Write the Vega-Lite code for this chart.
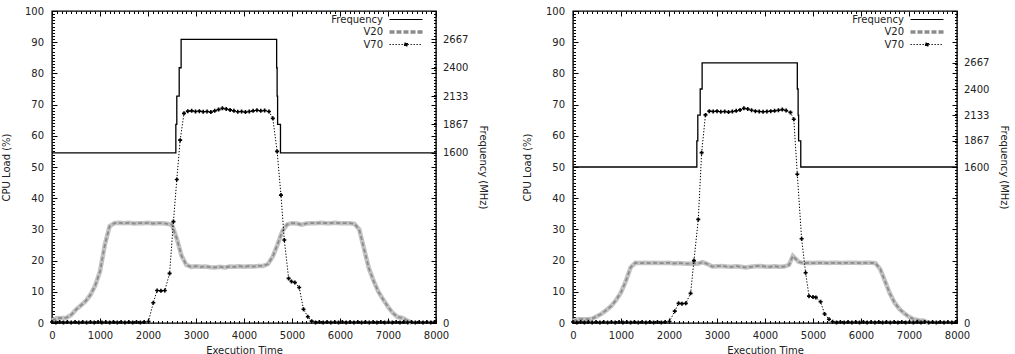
{
  "$schema": "https://vega.github.io/schema/vega-lite/v6.json",
  "padding": {"left": 1, "top": 5, "right": 0, "bottom": 0},
  "spacing": 33,
  "datasets": {
    "v20Left": [
      {"t": 0, "load": 0.8}, {"t": 100, "load": 1.5}, {"t": 200, "load": 1.6}, {"t": 300, "load": 1.7}, {"t": 400, "load": 2.6},
      {"t": 500, "load": 4.3}, {"t": 600, "load": 5.6}, {"t": 700, "load": 7.0}, {"t": 800, "load": 9.0}, {"t": 900, "load": 12.0},
      {"t": 1000, "load": 16.5}, {"t": 1100, "load": 25.0}, {"t": 1200, "load": 31.0}, {"t": 1300, "load": 32.0}, {"t": 1400, "load": 32.1},
      {"t": 1500, "load": 32.0}, {"t": 1600, "load": 32.1}, {"t": 1700, "load": 31.9}, {"t": 1800, "load": 32.0}, {"t": 1900, "load": 32.0},
      {"t": 2000, "load": 32.1}, {"t": 2100, "load": 31.9}, {"t": 2200, "load": 32.0}, {"t": 2300, "load": 32.0}, {"t": 2400, "load": 31.8},
      {"t": 2500, "load": 31.5}, {"t": 2600, "load": 27.0}, {"t": 2700, "load": 21.5}, {"t": 2800, "load": 18.6}, {"t": 2900, "load": 18.0},
      {"t": 3000, "load": 18.2}, {"t": 3100, "load": 18.0}, {"t": 3200, "load": 18.1}, {"t": 3300, "load": 17.9}, {"t": 3400, "load": 17.8},
      {"t": 3500, "load": 18.0}, {"t": 3600, "load": 17.8}, {"t": 3700, "load": 18.1}, {"t": 3800, "load": 18.0}, {"t": 3900, "load": 18.2},
      {"t": 4000, "load": 18.0}, {"t": 4100, "load": 18.2}, {"t": 4200, "load": 18.1}, {"t": 4300, "load": 18.3}, {"t": 4400, "load": 18.3},
      {"t": 4500, "load": 18.9}, {"t": 4600, "load": 21.3}, {"t": 4700, "load": 25.2}, {"t": 4800, "load": 29.5}, {"t": 4900, "load": 31.6},
      {"t": 5000, "load": 32.0}, {"t": 5100, "load": 31.9}, {"t": 5200, "load": 31.5}, {"t": 5300, "load": 31.9}, {"t": 5400, "load": 32.0},
      {"t": 5500, "load": 32.0}, {"t": 5600, "load": 32.1}, {"t": 5700, "load": 32.0}, {"t": 5800, "load": 32.0}, {"t": 5900, "load": 32.1},
      {"t": 6000, "load": 32.0}, {"t": 6100, "load": 32.0}, {"t": 6200, "load": 32.0}, {"t": 6300, "load": 31.8}, {"t": 6400, "load": 30.0},
      {"t": 6500, "load": 23.8}, {"t": 6600, "load": 17.6}, {"t": 6700, "load": 13.5}, {"t": 6800, "load": 10.0}, {"t": 6900, "load": 7.5},
      {"t": 7000, "load": 5.2}, {"t": 7100, "load": 3.2}, {"t": 7200, "load": 1.9}, {"t": 7300, "load": 1.6}, {"t": 7400, "load": 0.8},
      {"t": 7500, "load": 0.0}
    ],
    "v70Left": [
      {"t": 0, "load": 0.3}, {"t": 80, "load": 0.2}, {"t": 160, "load": 0.3}, {"t": 240, "load": 0.2}, {"t": 320, "load": 0.3},
      {"t": 400, "load": 0.2}, {"t": 480, "load": 0.3}, {"t": 560, "load": 0.2}, {"t": 640, "load": 0.3}, {"t": 720, "load": 0.2},
      {"t": 800, "load": 0.3}, {"t": 880, "load": 0.2}, {"t": 960, "load": 0.3}, {"t": 1040, "load": 0.2}, {"t": 1120, "load": 0.3},
      {"t": 1200, "load": 0.2}, {"t": 1280, "load": 0.3}, {"t": 1360, "load": 0.2}, {"t": 1440, "load": 0.3}, {"t": 1520, "load": 0.2},
      {"t": 1600, "load": 0.3}, {"t": 1680, "load": 0.2}, {"t": 1760, "load": 0.3}, {"t": 1840, "load": 0.2}, {"t": 1920, "load": 0.3},
      {"t": 2010, "load": 0.5}, {"t": 2110, "load": 6.5}, {"t": 2190, "load": 10.4}, {"t": 2270, "load": 10.3}, {"t": 2350, "load": 10.4},
      {"t": 2450, "load": 15.9}, {"t": 2530, "load": 32.5}, {"t": 2600, "load": 46.0}, {"t": 2670, "load": 58.6}, {"t": 2750, "load": 67.2},
      {"t": 2830, "load": 67.9}, {"t": 2910, "load": 68.0}, {"t": 2990, "load": 67.8}, {"t": 3070, "load": 67.9}, {"t": 3150, "load": 67.7},
      {"t": 3230, "load": 67.8}, {"t": 3310, "load": 67.6}, {"t": 3390, "load": 68.0}, {"t": 3470, "load": 68.4}, {"t": 3550, "load": 68.8},
      {"t": 3630, "load": 68.6}, {"t": 3710, "load": 68.3}, {"t": 3790, "load": 68.0}, {"t": 3870, "load": 67.7}, {"t": 3950, "load": 67.8},
      {"t": 4030, "load": 67.6}, {"t": 4110, "load": 67.8}, {"t": 4190, "load": 68.0}, {"t": 4270, "load": 68.2}, {"t": 4350, "load": 68.0},
      {"t": 4430, "load": 68.1}, {"t": 4520, "load": 67.8}, {"t": 4600, "load": 65.6}, {"t": 4690, "load": 55.0}, {"t": 4770, "load": 41.0},
      {"t": 4840, "load": 26.6}, {"t": 4930, "load": 14.3}, {"t": 4990, "load": 13.3}, {"t": 5060, "load": 13.0}, {"t": 5150, "load": 11.4},
      {"t": 5240, "load": 4.4}, {"t": 5330, "load": 2.0}, {"t": 5410, "load": 0.6}, {"t": 5490, "load": 0.2}, {"t": 5570, "load": 0.3},
      {"t": 5650, "load": 0.2}, {"t": 5730, "load": 0.3}, {"t": 5810, "load": 0.2}, {"t": 5890, "load": 0.3}, {"t": 5970, "load": 0.2},
      {"t": 6050, "load": 0.3}, {"t": 6130, "load": 0.2}, {"t": 6210, "load": 0.3}, {"t": 6290, "load": 0.2}, {"t": 6370, "load": 0.3},
      {"t": 6450, "load": 0.2}, {"t": 6530, "load": 0.3}, {"t": 6610, "load": 0.2}, {"t": 6690, "load": 0.3}, {"t": 6770, "load": 0.2},
      {"t": 6850, "load": 0.3}, {"t": 6930, "load": 0.2}, {"t": 7010, "load": 0.3}, {"t": 7090, "load": 0.2}, {"t": 7170, "load": 0.3},
      {"t": 7250, "load": 0.2}, {"t": 7330, "load": 0.3}, {"t": 7410, "load": 0.2}, {"t": 7490, "load": 0.3}, {"t": 7570, "load": 0.2},
      {"t": 7650, "load": 0.3}, {"t": 7730, "load": 0.2}, {"t": 7810, "load": 0.3}, {"t": 7890, "load": 0.2}, {"t": 7970, "load": 0.3}
    ],
    "freqLeft": [
      {"t": 0, "mhz": 1600}, {"t": 2580, "mhz": 1867}, {"t": 2600, "mhz": 2133}, {"t": 2650, "mhz": 2400}, {"t": 2690, "mhz": 2667},
      {"t": 4680, "mhz": 2400}, {"t": 4690, "mhz": 2133}, {"t": 4700, "mhz": 1867}, {"t": 4760, "mhz": 1600}, {"t": 8000, "mhz": 1600}
    ],
    "v20Right": [
      {"t": 0, "load": 0.6}, {"t": 100, "load": 1.2}, {"t": 200, "load": 1.2}, {"t": 300, "load": 1.2}, {"t": 400, "load": 1.4},
      {"t": 500, "load": 2.2}, {"t": 600, "load": 3.0}, {"t": 700, "load": 4.2}, {"t": 800, "load": 5.5}, {"t": 900, "load": 7.4},
      {"t": 1000, "load": 9.8}, {"t": 1100, "load": 13.4}, {"t": 1200, "load": 17.8}, {"t": 1300, "load": 19.3}, {"t": 1400, "load": 19.2},
      {"t": 1500, "load": 19.3}, {"t": 1600, "load": 19.2}, {"t": 1700, "load": 19.3}, {"t": 1800, "load": 19.2}, {"t": 1900, "load": 19.2},
      {"t": 2000, "load": 19.3}, {"t": 2100, "load": 19.1}, {"t": 2200, "load": 19.2}, {"t": 2300, "load": 19.1}, {"t": 2400, "load": 19.0},
      {"t": 2500, "load": 19.1}, {"t": 2600, "load": 19.0}, {"t": 2700, "load": 19.5}, {"t": 2800, "load": 18.9}, {"t": 2900, "load": 18.1},
      {"t": 3000, "load": 18.2}, {"t": 3100, "load": 18.3}, {"t": 3200, "load": 18.1}, {"t": 3300, "load": 18.0}, {"t": 3400, "load": 18.2},
      {"t": 3500, "load": 18.0}, {"t": 3600, "load": 17.8}, {"t": 3700, "load": 18.0}, {"t": 3800, "load": 18.2}, {"t": 3900, "load": 18.3},
      {"t": 4000, "load": 18.1}, {"t": 4100, "load": 18.0}, {"t": 4200, "load": 18.2}, {"t": 4300, "load": 18.0}, {"t": 4400, "load": 18.1},
      {"t": 4500, "load": 18.6}, {"t": 4580, "load": 21.5}, {"t": 4700, "load": 19.6}, {"t": 4800, "load": 19.2}, {"t": 4900, "load": 19.3},
      {"t": 5000, "load": 19.2}, {"t": 5100, "load": 19.3}, {"t": 5200, "load": 19.3}, {"t": 5300, "load": 19.2}, {"t": 5400, "load": 19.3},
      {"t": 5500, "load": 19.3}, {"t": 5600, "load": 19.2}, {"t": 5700, "load": 19.3}, {"t": 5800, "load": 19.3}, {"t": 5900, "load": 19.3},
      {"t": 6000, "load": 19.2}, {"t": 6100, "load": 19.3}, {"t": 6200, "load": 19.3}, {"t": 6300, "load": 19.2}, {"t": 6400, "load": 17.3},
      {"t": 6500, "load": 13.4}, {"t": 6600, "load": 9.5}, {"t": 6700, "load": 6.5}, {"t": 6800, "load": 4.5}, {"t": 6900, "load": 3.1},
      {"t": 7000, "load": 2.0}, {"t": 7100, "load": 1.2}, {"t": 7200, "load": 0.9}, {"t": 7300, "load": 0.8}, {"t": 7400, "load": 0.1}
    ],
    "v70Right": [
      {"t": 0, "load": 0.3}, {"t": 80, "load": 0.2}, {"t": 160, "load": 0.3}, {"t": 240, "load": 0.2}, {"t": 320, "load": 0.3},
      {"t": 400, "load": 0.2}, {"t": 480, "load": 0.3}, {"t": 560, "load": 0.2}, {"t": 640, "load": 0.3}, {"t": 720, "load": 0.2},
      {"t": 800, "load": 0.3}, {"t": 880, "load": 0.2}, {"t": 960, "load": 0.3}, {"t": 1040, "load": 0.2}, {"t": 1120, "load": 0.3},
      {"t": 1200, "load": 0.2}, {"t": 1280, "load": 0.3}, {"t": 1360, "load": 0.2}, {"t": 1440, "load": 0.3}, {"t": 1520, "load": 0.2},
      {"t": 1600, "load": 0.3}, {"t": 1680, "load": 0.2}, {"t": 1760, "load": 0.3}, {"t": 1840, "load": 0.2}, {"t": 1920, "load": 0.3},
      {"t": 2010, "load": 0.5}, {"t": 2120, "load": 3.8}, {"t": 2200, "load": 6.3}, {"t": 2270, "load": 6.2}, {"t": 2350, "load": 6.3},
      {"t": 2450, "load": 9.5}, {"t": 2520, "load": 20.0}, {"t": 2610, "load": 33.2}, {"t": 2680, "load": 54.6}, {"t": 2760, "load": 66.7},
      {"t": 2840, "load": 67.9}, {"t": 2920, "load": 67.8}, {"t": 3000, "load": 67.9}, {"t": 3080, "load": 67.7}, {"t": 3160, "load": 67.8},
      {"t": 3240, "load": 67.6}, {"t": 3320, "load": 67.8}, {"t": 3400, "load": 68.0}, {"t": 3480, "load": 68.3}, {"t": 3560, "load": 68.8},
      {"t": 3640, "load": 68.6}, {"t": 3720, "load": 68.2}, {"t": 3800, "load": 67.9}, {"t": 3880, "load": 67.8}, {"t": 3960, "load": 67.7},
      {"t": 4040, "load": 67.8}, {"t": 4120, "load": 67.9}, {"t": 4200, "load": 68.0}, {"t": 4280, "load": 68.2}, {"t": 4360, "load": 68.4},
      {"t": 4440, "load": 68.1}, {"t": 4530, "load": 67.5}, {"t": 4600, "load": 65.3}, {"t": 4673, "load": 47.7}, {"t": 4763, "load": 27.0},
      {"t": 4846, "load": 16.1}, {"t": 4917, "load": 8.6}, {"t": 5000, "load": 8.3}, {"t": 5060, "load": 8.2}, {"t": 5158, "load": 6.8},
      {"t": 5242, "load": 2.9}, {"t": 5333, "load": 1.2}, {"t": 5410, "load": 0.4}, {"t": 5490, "load": 0.2}, {"t": 5570, "load": 0.3},
      {"t": 5650, "load": 0.2}, {"t": 5730, "load": 0.3}, {"t": 5810, "load": 0.2}, {"t": 5890, "load": 0.3}, {"t": 5970, "load": 0.2},
      {"t": 6050, "load": 0.3}, {"t": 6130, "load": 0.2}, {"t": 6210, "load": 0.3}, {"t": 6290, "load": 0.2}, {"t": 6370, "load": 0.3},
      {"t": 6450, "load": 0.2}, {"t": 6530, "load": 0.3}, {"t": 6610, "load": 0.2}, {"t": 6690, "load": 0.3}, {"t": 6770, "load": 0.2},
      {"t": 6850, "load": 0.3}, {"t": 6930, "load": 0.2}, {"t": 7010, "load": 0.3}, {"t": 7090, "load": 0.2}, {"t": 7170, "load": 0.3},
      {"t": 7250, "load": 0.2}, {"t": 7330, "load": 0.3}, {"t": 7410, "load": 0.2}, {"t": 7490, "load": 0.3}, {"t": 7570, "load": 0.2},
      {"t": 7650, "load": 0.3}, {"t": 7730, "load": 0.2}, {"t": 7810, "load": 0.3}, {"t": 7890, "load": 0.2}, {"t": 7970, "load": 0.3}
    ],
    "freqRight": [
      {"t": 0, "mhz": 1600}, {"t": 2580, "mhz": 1867}, {"t": 2600, "mhz": 2133}, {"t": 2650, "mhz": 2400}, {"t": 2690, "mhz": 2667},
      {"t": 4673, "mhz": 2400}, {"t": 4690, "mhz": 2133}, {"t": 4700, "mhz": 1867}, {"t": 4745, "mhz": 1600}, {"t": 8000, "mhz": 1600}
    ]
  },
  "resolve": {
    "scale": {"x": "independent", "y": "independent", "color": "independent"},
    "legend": {"color": "independent"}
  },
  "hconcat": [
    {
      "width": 384,
      "height": 312,
      "resolve": {
        "scale": {"x": "shared", "y": "independent"},
        "axis": {"x": "independent", "y": "independent"}
      },
      "layer": [
        {
          "data": {"name": "v20Left"},
          "mark": {"type": "line", "stroke": "#c3c3c3", "strokeWidth": 4.5},
          "encoding": {
            "x": {
              "field": "t", "type": "quantitative",
              "scale": {"domain": [0, 8000], "nice": false},
              "axis": {
                "orient": "bottom", "title": "Execution Time", "format": "d",
                "values": [0,100,200,300,400,500,600,700,800,900,1000,1100,1200,1300,1400,1500,1600,1700,1800,1900,2000,2100,2200,2300,2400,2500,2600,2700,2800,2900,3000,3100,3200,3300,3400,3500,3600,3700,3800,3900,4000,4100,4200,4300,4400,4500,4600,4700,4800,4900,5000,5100,5200,5300,5400,5500,5600,5700,5800,5900,6000,6100,6200,6300,6400,6500,6600,6700,6800,6900,7000,7100,7200,7300,7400,7500,7600,7700,7800,7900,8000],
                "labelExpr": "datum.value % 1000 === 0 ? datum.label : ''",
                "tickSize": {"condition": {"test": "datum.value % 1000 === 0", "value": -5}, "value": -2.5},
                "labelPadding": 12, "titlePadding": 3
              }
            },
            "y": {
              "field": "load", "type": "quantitative",
              "scale": {"domain": [0, 100], "nice": false},
              "axis": {
                "orient": "left", "title": "CPU Load (%)",
                "values": [0,1,2,3,4,5,6,7,8,9,10,11,12,13,14,15,16,17,18,19,20,21,22,23,24,25,26,27,28,29,30,31,32,33,34,35,36,37,38,39,40,41,42,43,44,45,46,47,48,49,50,51,52,53,54,55,56,57,58,59,60,61,62,63,64,65,66,67,68,69,70,71,72,73,74,75,76,77,78,79,80,81,82,83,84,85,86,87,88,89,90,91,92,93,94,95,96,97,98,99,100],
                "labelExpr": "datum.value % 10 === 0 ? datum.label : ''",
                "tickSize": {"condition": {"test": "datum.value % 10 === 0", "value": -5}, "value": -2.5},
                "labelPadding": 13.5, "titlePadding": 12.5
              }
            }
          }
        },
        {
          "data": {"name": "v20Left"},
          "mark": {"type": "line", "strokeWidth": 1.8, "strokeDash": [4, 2.5]},
          "encoding": {
            "x": {
              "field": "t", "type": "quantitative",
              "scale": {"domain": [0, 8000], "nice": false},
              "axis": {
                "orient": "top", "title": null, "labels": false,
                "values": [0,100,200,300,400,500,600,700,800,900,1000,1100,1200,1300,1400,1500,1600,1700,1800,1900,2000,2100,2200,2300,2400,2500,2600,2700,2800,2900,3000,3100,3200,3300,3400,3500,3600,3700,3800,3900,4000,4100,4200,4300,4400,4500,4600,4700,4800,4900,5000,5100,5200,5300,5400,5500,5600,5700,5800,5900,6000,6100,6200,6300,6400,6500,6600,6700,6800,6900,7000,7100,7200,7300,7400,7500,7600,7700,7800,7900,8000],
                "tickSize": {"condition": {"test": "datum.value % 1000 === 0", "value": -5}, "value": -2.5}
              }
            },
            "y": {
              "field": "load", "type": "quantitative",
              "scale": {"domain": [0, 100], "nice": false},
              "axis": {
                "orient": "right", "title": null, "labels": false,
                "values": [0,1,2,3,4,5,6,7,8,9,10,11,12,13,14,15,16,17,18,19,20,21,22,23,24,25,26,27,28,29,30,31,32,33,34,35,36,37,38,39,40,41,42,43,44,45,46,47,48,49,50,51,52,53,54,55,56,57,58,59,60,61,62,63,64,65,66,67,68,69,70,71,72,73,74,75,76,77,78,79,80,81,82,83,84,85,86,87,88,89,90,91,92,93,94,95,96,97,98,99,100],
                "tickSize": {"condition": {"test": "datum.value % 10 === 0", "value": -5}, "value": -2.5}
              }
            },
            "color": {
              "datum": "V20",
              "scale": {"domain": ["Frequency", "V20", "V70"], "range": ["#000000", "#8c8c8c", "#000000"]},
              "legend": {
                "orient": "none", "legendX": 332, "legendY": 3.5, "direction": "vertical", "title": null,
                "symbolType": "stroke", "symbolSize": 121, "symbolOffset": 17, "labelOffset": -28,
                "labelAlign": "right", "rowPadding": 0.5, "padding": 0,
                "encode": {
                  "symbols": {
                    "update": {
                      "size": {"value": 1089},
                      "shape": {"signal": "datum.value === 'V70' ? 'M-1,0H1M-0.09,-0.09H0.09V0.09H-0.09Z' : 'stroke'"},
                      "fill": {"signal": "datum.value === 'V70' ? '#000000' : 'transparent'"},
                      "strokeWidth": {"signal": "datum.value === 'V20' ? 3.5 : 1.2"},
                      "strokeDash": {"signal": "datum.value === 'V20' ? [5, 2] : datum.value === 'V70' ? [1.3, 1.7] : [1, 0]"}
                    }
                  }
                }
              }
            }
          }
        },
        {
          "data": {"name": "v70Left"},
          "mark": {"type": "line", "strokeWidth": 1, "strokeDash": [1.3, 1.7], "point": {"shape": "cross", "filled": true, "size": 16, "color": "#111"}},
          "encoding": {
            "x": {"field": "t", "type": "quantitative", "scale": {"domain": [0, 8000], "nice": false}, "axis": null},
            "y": {"field": "load", "type": "quantitative", "scale": {"domain": [0, 100], "nice": false}, "axis": null},
            "color": {"datum": "V70"}
          }
        },
        {
          "data": {"name": "freqLeft"},
          "mark": {"type": "line", "interpolate": "step-after", "strokeWidth": 1.3},
          "encoding": {
            "x": {"field": "t", "type": "quantitative", "scale": {"domain": [0, 8000], "nice": false}, "axis": null},
            "y": {
              "field": "mhz", "type": "quantitative",
              "scale": {"domain": [0, 2933.7], "nice": false, "zero": true},
              "axis": {
                "orient": "right", "title": "Frequency (MHz)", "format": "d",
                "values": [0, 1600, 1867, 2133, 2400, 2667],
                "tickSize": -5, "labelPadding": 11.5, "titlePadding": 9.5
              }
            },
            "color": {"datum": "Frequency"}
          }
        }
      ]
    },
    {
      "width": 384,
      "height": 312,
      "resolve": {
        "scale": {"x": "shared", "y": "independent"},
        "axis": {"x": "independent", "y": "independent"}
      },
      "layer": [
        {
          "data": {"name": "v20Right"},
          "mark": {"type": "line", "stroke": "#c3c3c3", "strokeWidth": 4.5},
          "encoding": {
            "x": {
              "field": "t", "type": "quantitative",
              "scale": {"domain": [0, 8000], "nice": false},
              "axis": {
                "orient": "bottom", "title": "Execution Time", "format": "d",
                "values": [0,100,200,300,400,500,600,700,800,900,1000,1100,1200,1300,1400,1500,1600,1700,1800,1900,2000,2100,2200,2300,2400,2500,2600,2700,2800,2900,3000,3100,3200,3300,3400,3500,3600,3700,3800,3900,4000,4100,4200,4300,4400,4500,4600,4700,4800,4900,5000,5100,5200,5300,5400,5500,5600,5700,5800,5900,6000,6100,6200,6300,6400,6500,6600,6700,6800,6900,7000,7100,7200,7300,7400,7500,7600,7700,7800,7900,8000],
                "labelExpr": "datum.value % 1000 === 0 ? datum.label : ''",
                "tickSize": {"condition": {"test": "datum.value % 1000 === 0", "value": -5}, "value": -2.5},
                "labelPadding": 12, "titlePadding": 3
              }
            },
            "y": {
              "field": "load", "type": "quantitative",
              "scale": {"domain": [0, 100], "nice": false},
              "axis": {
                "orient": "left", "title": "CPU Load (%)",
                "values": [0,1,2,3,4,5,6,7,8,9,10,11,12,13,14,15,16,17,18,19,20,21,22,23,24,25,26,27,28,29,30,31,32,33,34,35,36,37,38,39,40,41,42,43,44,45,46,47,48,49,50,51,52,53,54,55,56,57,58,59,60,61,62,63,64,65,66,67,68,69,70,71,72,73,74,75,76,77,78,79,80,81,82,83,84,85,86,87,88,89,90,91,92,93,94,95,96,97,98,99,100],
                "labelExpr": "datum.value % 10 === 0 ? datum.label : ''",
                "tickSize": {"condition": {"test": "datum.value % 10 === 0", "value": -5}, "value": -2.5},
                "labelPadding": 13.5, "titlePadding": 12.5
              }
            }
          }
        },
        {
          "data": {"name": "v20Right"},
          "mark": {"type": "line", "strokeWidth": 1.8, "strokeDash": [4, 2.5]},
          "encoding": {
            "x": {
              "field": "t", "type": "quantitative",
              "scale": {"domain": [0, 8000], "nice": false},
              "axis": {
                "orient": "top", "title": null, "labels": false,
                "values": [0,100,200,300,400,500,600,700,800,900,1000,1100,1200,1300,1400,1500,1600,1700,1800,1900,2000,2100,2200,2300,2400,2500,2600,2700,2800,2900,3000,3100,3200,3300,3400,3500,3600,3700,3800,3900,4000,4100,4200,4300,4400,4500,4600,4700,4800,4900,5000,5100,5200,5300,5400,5500,5600,5700,5800,5900,6000,6100,6200,6300,6400,6500,6600,6700,6800,6900,7000,7100,7200,7300,7400,7500,7600,7700,7800,7900,8000],
                "tickSize": {"condition": {"test": "datum.value % 1000 === 0", "value": -5}, "value": -2.5}
              }
            },
            "y": {
              "field": "load", "type": "quantitative",
              "scale": {"domain": [0, 100], "nice": false},
              "axis": {
                "orient": "right", "title": null, "labels": false,
                "values": [0,1,2,3,4,5,6,7,8,9,10,11,12,13,14,15,16,17,18,19,20,21,22,23,24,25,26,27,28,29,30,31,32,33,34,35,36,37,38,39,40,41,42,43,44,45,46,47,48,49,50,51,52,53,54,55,56,57,58,59,60,61,62,63,64,65,66,67,68,69,70,71,72,73,74,75,76,77,78,79,80,81,82,83,84,85,86,87,88,89,90,91,92,93,94,95,96,97,98,99,100],
                "tickSize": {"condition": {"test": "datum.value % 10 === 0", "value": -5}, "value": -2.5}
              }
            },
            "color": {
              "datum": "V20",
              "scale": {"domain": ["Frequency", "V20", "V70"], "range": ["#000000", "#8c8c8c", "#000000"]},
              "legend": {
                "orient": "none", "legendX": 332, "legendY": 3.5, "direction": "vertical", "title": null,
                "symbolType": "stroke", "symbolSize": 121, "symbolOffset": 17, "labelOffset": -28,
                "labelAlign": "right", "rowPadding": 0.5, "padding": 0,
                "encode": {
                  "symbols": {
                    "update": {
                      "size": {"value": 1089},
                      "shape": {"signal": "datum.value === 'V70' ? 'M-1,0H1M-0.09,-0.09H0.09V0.09H-0.09Z' : 'stroke'"},
                      "fill": {"signal": "datum.value === 'V70' ? '#000000' : 'transparent'"},
                      "strokeWidth": {"signal": "datum.value === 'V20' ? 3.5 : 1.2"},
                      "strokeDash": {"signal": "datum.value === 'V20' ? [5, 2] : datum.value === 'V70' ? [1.3, 1.7] : [1, 0]"}
                    }
                  }
                }
              }
            }
          }
        },
        {
          "data": {"name": "v70Right"},
          "mark": {"type": "line", "strokeWidth": 1, "strokeDash": [1.3, 1.7], "point": {"shape": "cross", "filled": true, "size": 16, "color": "#111"}},
          "encoding": {
            "x": {"field": "t", "type": "quantitative", "scale": {"domain": [0, 8000], "nice": false}, "axis": null},
            "y": {"field": "load", "type": "quantitative", "scale": {"domain": [0, 100], "nice": false}, "axis": null},
            "color": {"datum": "V70"}
          }
        },
        {
          "data": {"name": "freqRight"},
          "mark": {"type": "line", "interpolate": "step-after", "strokeWidth": 1.3},
          "encoding": {
            "x": {"field": "t", "type": "quantitative", "scale": {"domain": [0, 8000], "nice": false}, "axis": null},
            "y": {
              "field": "mhz", "type": "quantitative",
              "scale": {"domain": [0, 3200], "nice": false, "zero": true},
              "axis": {
                "orient": "right", "title": "Frequency (MHz)", "format": "d",
                "values": [0, 1600, 1867, 2133, 2400, 2667],
                "tickSize": -5, "labelPadding": 11.5, "titlePadding": 9.5
              }
            },
            "color": {"datum": "Frequency"}
          }
        }
      ]
    }
  ],
  "config": {
    "font": "DejaVu Sans",
    "view": {"stroke": "#000000", "strokeWidth": 1.4},
    "axis": {
      "domain": false, "grid": false,
      "tickColor": "#000000", "tickWidth": 1,
      "labelFont": "DejaVu Sans", "labelFontSize": 10, "labelColor": "#222222",
      "labelFlush": false, "labelOverlap": false,
      "titleFont": "DejaVu Sans", "titleFontSize": 10, "titleFontWeight": "normal", "titleColor": "#222222"
    },
    "legend": {
      "labelFont": "DejaVu Sans", "labelFontSize": 10, "labelColor": "#222222", "labelBaseline": "middle"
    }
  }
}
